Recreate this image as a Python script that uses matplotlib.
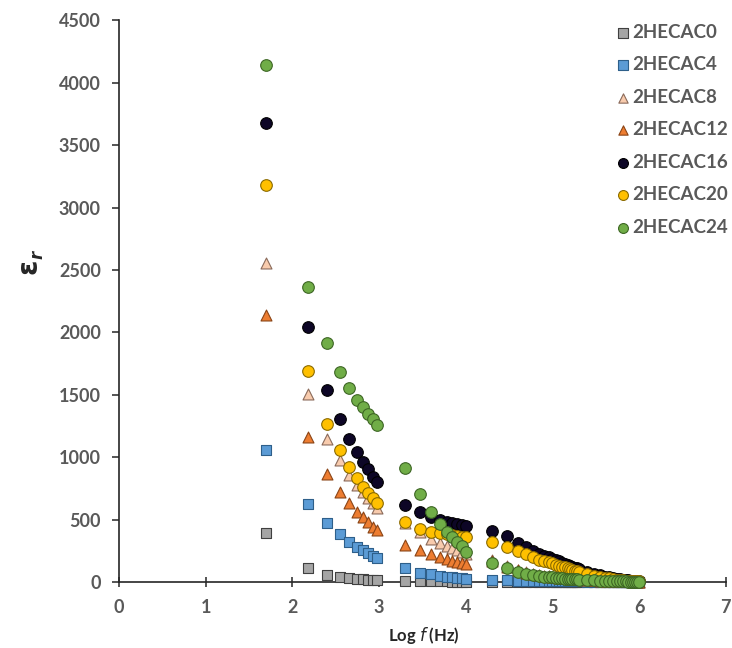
import numpy as np
import matplotlib
matplotlib.use("Agg")
import matplotlib.pyplot as plt

# ---- data ----
freq_hz = [50, 150, 250, 350, 450, 550, 650, 750, 850, 950,
           2000, 3000, 4000, 5000, 6000, 7000, 8000, 9000, 10000,
           20000, 30000, 40000, 50000, 60000, 70000, 80000, 90000, 100000,
           110000, 120000, 130000, 140000, 150000, 160000, 170000, 180000, 190000, 200000,
           250000, 300000, 350000, 400000, 450000, 500000, 550000, 600000, 650000,
           700000, 750000, 800000, 850000, 900000, 950000, 1000000]

eps_c0 = [395, 110, 56, 42, 33, 26, 21, 18, 15, 13,
          8, 6, 5, 4, 4, 3, 3, 3, 3,
          2, 2, 2, 2, 1, 1, 1, 1, 1,
          1, 1, 1, 1, 1, 1, 1, 1, 1, 1,
          1, 1, 1, 1, 1, 1, 1, 1, 1, 1, 1, 1, 1, 1, 1, 1]
eps_c4 = [1057, 624, 470, 384, 323, 283, 256, 230, 208, 190,
          110, 75, 60, 50, 42, 36, 32, 28, 25,
          16, 13, 11, 10, 9, 8, 7, 7, 6,
          6, 5, 5, 5, 5, 4, 4, 4, 4, 4,
          3, 3, 3, 2, 2, 2, 2, 2, 2, 2, 2, 1, 1, 1, 1, 1]
eps_c8 = [2560, 1505, 1143, 977, 857, 780, 720, 670, 630, 595,
          470, 400, 345, 310, 288, 270, 255, 243, 225,
          175, 125, 95, 78, 65, 57, 51, 46, 42,
          38, 35, 33, 31, 29, 27, 25, 24, 23, 22,
          18, 15, 12, 10, 9, 8, 7, 6, 5, 5, 4, 4, 4, 3, 3, 3]
eps_c12 = [2138, 1163, 865, 723, 630, 563, 523, 483, 443, 416,
           296, 256, 224, 203, 184, 171, 160, 155, 144,
           165, 120, 92, 75, 63, 55, 49, 44, 40,
           37, 34, 32, 30, 28, 26, 24, 23, 22, 21,
           17, 14, 11, 9, 8, 7, 6, 5, 5, 4, 4, 4, 3, 3, 3, 3]
eps_c16 = [3675, 2041, 1537, 1302, 1142, 1043, 963, 902, 843, 803,
           620, 560, 523, 496, 483, 475, 464, 456, 448,
           411, 368, 315, 283, 251, 228, 212, 200, 188,
           176, 165, 155, 146, 137, 128, 121, 114, 108, 102,
           80, 64, 52, 43, 36, 30, 25, 21, 18, 15, 13, 11, 9, 8, 7, 6]
eps_c20 = [3179, 1690, 1266, 1057, 923, 830, 763, 710, 670, 630,
           483, 424, 403, 390, 382, 375, 368, 362, 358,
           323, 283, 251, 221, 198, 180, 167, 157, 148,
           139, 131, 123, 116, 109, 102, 96, 91, 86, 81,
           64, 51, 41, 34, 28, 23, 19, 16, 13, 11, 9, 8, 7, 6, 5, 4]
eps_c24 = [4140, 2360, 1911, 1682, 1551, 1457, 1403, 1350, 1302, 1257,
           910, 705, 563, 464, 403, 363, 323, 288, 243,
           150, 110, 83, 64, 55, 48, 43, 39, 36,
           33, 31, 29, 27, 25, 23, 22, 21, 20, 19,
           15, 12, 10, 8, 7, 6, 5, 5, 4, 4, 3, 3, 3, 3, 3, 3]

labels = ["2HECAC0", "2HECAC4", "2HECAC8", "2HECAC12", "2HECAC16", "2HECAC20", "2HECAC24"]
series = [eps_c0, eps_c4, eps_c8, eps_c12, eps_c16, eps_c20, eps_c24]
markers = ["s", "s", "^", "^", "o", "o", "o"]
faces = ["#a5a5a5", "#5b9bd5", "#f8cbad", "#ed7d31", "#0d0626", "#ffc000", "#70ad47"]
edges = ["#404040", "#2e5f8a", "#8a6a5a", "#8a4416", "#000000", "#8a6a00", "#3d6624"]
x_ticks = [0, 1, 2, 3, 4, 5, 6, 7]
y_ticks = [0, 500, 1000, 1500, 2000, 2500, 3000, 3500, 4000, 4500]

logf = np.log10(np.array(freq_hz, dtype=float))

fig = plt.figure(figsize=(7.32, 6.48), dpi=100)
ax = fig.add_axes([0.1626, 0.1019, 0.829, 0.8666])

sizes = {"s": 62, "^": 62, "o": 70}
for y, m, fc, ec, lab in zip(series, markers, faces, edges, labels):
    ax.scatter(logf, y, marker=m, s=sizes[m], facecolor=fc, edgecolor=ec,
               linewidths=0.8, label=lab, zorder=3, clip_on=False)

ax.set_xlim(0, 7)
ax.set_ylim(0, 4500)
ax.set_xticks(x_ticks)
ax.set_yticks(y_ticks)
for s in ["top", "right"]:
    ax.spines[s].set_visible(False)
for s in ["left", "bottom"]:
    ax.spines[s].set_color("#262626")
    ax.spines[s].set_linewidth(1.2)

ax.tick_params(axis="y", direction="out", length=5, width=1.1, color="#262626",
               pad=8, labelcolor="#595959")
ax.tick_params(axis="x", direction="inout", length=7, width=1.1, color="#262626",
               pad=9, labelcolor="#595959")
for t in ax.get_yticklabels() + ax.get_xticklabels():
    t.set_fontfamily("Lato")
    t.set_fontweight("bold")
    t.set_fontsize(13)

fig.text(0.5792, 1 - 636 / 648, r"Log $\mathit{f}$ (Hz)", ha="center", va="center",
         fontfamily="Lato", fontweight="bold", fontsize=12, color="#262626")
fig.text(30 / 732, 1 - 268 / 648, r"$\mathbf{\varepsilon}$", rotation=90, ha="center", va="center",
         fontsize=20, color="#262626")
fig.text(37 / 732, 1 - 255 / 648, "r", rotation=90, ha="center", va="center",
         fontsize=12, fontweight="bold", fontstyle="italic", color="#262626")

leg = ax.legend(loc="upper left", bbox_to_anchor=(608 / 732, 1 - 16 / 648),
                bbox_transform=fig.transFigure, frameon=False,
                prop=dict(family="Lato", weight="bold", size=13.5),
                handletextpad=0.1, labelspacing=0.83, borderaxespad=0,
                handlelength=0.8, scatterpoints=1, markerscale=0.85)
for t in leg.get_texts():
    t.set_color("#595959")

fig.savefig("out.png", dpi=100)
